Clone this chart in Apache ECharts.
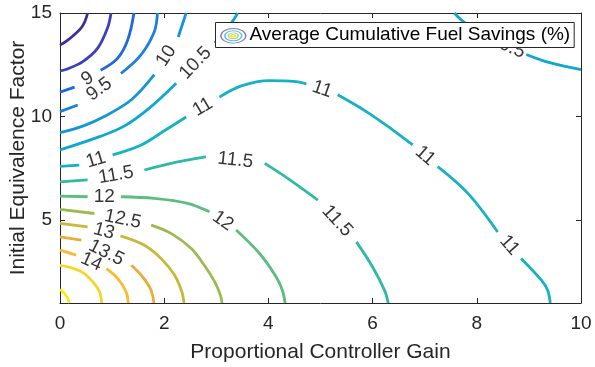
<!DOCTYPE html>
<html>
<head>
<meta charset="utf-8">
<script src="https://cdn.jsdelivr.net/npm/echarts@6/dist/echarts.min.js"></script>
<style>
  html, body { margin: 0; padding: 0; background: #fff; }
  #chart { width: 595px; height: 367px; }
</style>
</head>
<body>
<div id="chart"></div>
<script>
// Axis ticks
const xTicks = [0, 2, 4, 6, 8, 10];
const yTicks = [5, 10, 15];

// Contour paths as [gain, equivalence factor] points.
// Each path is a list of segments; the break between two segments is where the level label sits.
const c8 = [[[0.53, 15], [0.48, 14.6], [0.40, 14.26], [0.15, 13.69], [0, 13.45]]];
const c85 = [[[0.98, 15], [0.91, 14.26], [0.72, 13.29], [0.43, 12.64], [0.14, 12.3], [0, 12.2]]];
const c9 = [
  [[0, 11.18], [0.28, 11.42]],
  [[0.78, 12.24], [1.1, 12.8], [1.3, 13.7], [1.42, 15]]
];
const c95 = [
  [[0, 10.24], [0.34, 10.56]],
  [[1.17, 12.08], [1.55, 12.97], [1.81, 14.1], [1.87, 15]]
];
const c10 = [
  [[0, 9.22], [0.45, 9.55], [0.85, 10.0], [1.37, 10.81], [1.81, 12.02]],
  [[2.27, 13.84], [2.42, 15]]
];
const c105 = [
  [[0, 8.39], [0.76, 9.03], [1.24, 9.55], [1.72, 10.42], [2.23, 11.61]],
  [[2.97, 13.55], [3.29, 14.52], [3.41, 15]]
];
const c105b = [
  [[7.57, 15], [7.73, 14.61], [8.22, 13.81]],
  [[8.95, 13.0], [9.4, 12.6], [10, 12.27]]
];
const c11 = [
  [[0, 7.6], [0.37, 7.66]],
  [[1.01, 8.15], [1.56, 8.63], [2.01, 9.33], [2.42, 9.98]],
  [[3.06, 10.94], [3.48, 11.48], [4.02, 11.74], [4.53, 11.69], [4.73, 11.58]],
  [[5.33, 11.05], [5.88, 10.24], [6.39, 9.35], [6.77, 8.63]],
  [[7.25, 7.58], [7.83, 6.29], [8.4, 4.43]],
  [[8.85, 3.15], [9.24, 2.1], [9.36, 1.61], [9.41, 1.0]]
];
const c115 = [
  [[0, 6.85], [0.53, 6.94]],
  [[1.62, 7.42], [2.13, 7.74], [2.8, 8.05]],
  [[3.93, 7.74], [4.37, 7.02], [4.95, 5.97]],
  [[5.69, 3.95], [6.0, 2.74], [6.23, 1.61], [6.3, 1.0]]
];
const c12 = [
  [[0, 6.16], [0.53, 6.13]],
  [[1.17, 6.13], [1.81, 6.05], [2.45, 5.81], [2.87, 5.4]],
  [[3.38, 4.52], [3.83, 3.39], [4.15, 2.26], [4.27, 1.6], [4.32, 1.0]]
];
const c125 = [
  [[0, 5.52], [0.66, 5.32]],
  [[1.75, 4.76], [2.13, 4.36], [2.52, 3.63], [2.77, 2.82], [2.97, 2.02], [3.08, 1.37], [3.11, 1.0]]
];
const c13 = [
  [[0, 4.84], [0.53, 4.68]],
  [[1.16, 4.24], [1.62, 3.79], [1.94, 3.15], [2.2, 2.34], [2.34, 1.53], [2.38, 1.0]]
];
const c135 = [
  [[0, 4.19], [0.41, 4.03]],
  [[1.37, 2.82], [1.56, 2.34], [1.72, 1.77], [1.78, 1.35], [1.8, 1.0]]
];
const c14 = [
  [[0, 3.55], [0.31, 3.31]],
  [[0.89, 2.66], [1.11, 2.18], [1.27, 1.53], [1.31, 1.0]]
];
const c145 = [[[0, 2.82], [0.21, 2.71], [0.44, 2.47], [0.63, 2.02], [0.76, 1.53], [0.8, 1.0]]];
const c15 = [[[0, 1.66], [0.09, 1.45], [0.15, 1.21], [0.18, 1.0]]];

const contourLevels = [8, 8.5, 9, 9.5, 10, 10.5, 10.5, 11, 11.5, 12, 12.5, 13, 13.5, 14, 14.5, 15];
const contourPaths = [c8, c85, c9, c95, c10, c105, c105b, c11, c115, c12, c125, c13, c135, c14, c145, c15];

// Parula-like colours for levels 8, 8.5, ..., 15
const levelColors = ['#3b2f95', '#3b40bd', '#1f68e0', '#1a80dc', '#1496d6', '#0ea7cf', '#16b1c2',
  '#30b9a3', '#5cbd7e', '#9bbb52', '#c6b93c', '#e9ad3a', '#f7bb30', '#f5d72a', '#f5ef18'];

const legendName = 'Average Cumulative Fuel Savings (%)';
const FONT = "'Liberation Sans', Arial, Helvetica, sans-serif";
const AXIS_COLOR = '#262626';

function colorFor(level) {
  return levelColors[Math.round((level - 8) * 2)];
}

const chart = echarts.init(document.getElementById('chart'), null, { renderer: 'canvas' });

// One line series per segment
const lineSeries = [];
contourPaths.forEach((path, i) => {
  const col = colorFor(contourLevels[i]);
  path.forEach(seg => {
    lineSeries.push({
      type: 'line',
      name: legendName,
      data: seg,
      smooth: 0.35,
      symbol: 'none',
      silent: true,
      clip: true,
      lineStyle: { color: col, width: 2.8, cap: 'butt' },
      itemStyle: { color: col },
      z: 2
    });
  });
});

const axisLineStyle = { show: true, onZero: false, lineStyle: { color: AXIS_COLOR, width: 1 } };
const tickStyle = { show: true, inside: true, length: 5, lineStyle: { color: AXIS_COLOR, width: 1 } };

// Small nested-ellipse symbol used as the legend marker
function ring(r, color, width) {
  return {
    type: 'circle', x: 233.3, y: 35.8, scaleX: 1.7,
    shape: { cx: 0, cy: 0, r: r },
    style: { fill: 'none', stroke: color, lineWidth: width, strokeNoScale: true },
    z: 20
  };
}

const option = {
  animation: false,
  backgroundColor: '#fff',
  grid: { left: 60, top: 13, width: 521, height: 290, containLabel: false, outerBoundsMode: 'none' },
  xAxis: [
    {
      type: 'value', min: 0, max: 10, interval: 2, position: 'bottom',
      name: 'Proportional Controller Gain', nameLocation: 'middle', nameGap: 39,
      nameMoveOverlap: false,
      nameTextStyle: { fontSize: 21, color: AXIS_COLOR, fontFamily: FONT },
      axisLine: axisLineStyle, axisTick: tickStyle,
      axisLabel: { fontSize: 19, color: AXIS_COLOR, fontFamily: FONT, margin: 11,
        customValues: xTicks },
      splitLine: { show: false }
    },
    {
      type: 'value', min: 0, max: 10, interval: 2, position: 'top',
      axisLine: axisLineStyle, axisTick: tickStyle,
      axisLabel: { show: false }, splitLine: { show: false }
    }
  ],
  yAxis: [
    {
      type: 'value', min: 1, max: 15, position: 'left',
      name: 'Initial Equivalence Factor', nameLocation: 'middle', nameGap: 31,
      nameMoveOverlap: false,
      nameTextStyle: { fontSize: 21, color: AXIS_COLOR, fontFamily: FONT },
      axisLine: axisLineStyle,
      axisTick: Object.assign({}, tickStyle, { customValues: yTicks }),
      axisLabel: { fontSize: 19, color: AXIS_COLOR, fontFamily: FONT, margin: 8,
        customValues: yTicks },
      splitLine: { show: false }
    },
    {
      type: 'value', min: 1, max: 15, position: 'right',
      axisLine: axisLineStyle,
      axisTick: Object.assign({}, tickStyle, { customValues: yTicks }),
      axisLabel: { show: false }, splitLine: { show: false }
    }
  ],
  legend: {
    data: [legendName],
    left: 215.5, top: 22.5,
    padding: [3, 4, 3, 4],
    itemWidth: 25, itemHeight: 15,
    icon: 'rect',
    itemStyle: { color: 'rgba(0,0,0,0)', borderWidth: 0 },
    textStyle: { fontSize: 19, color: '#000', fontFamily: FONT },
    backgroundColor: '#fff',
    borderColor: AXIS_COLOR, borderWidth: 1, borderRadius: 0,
    selectedMode: false,
    z: 10
  },
  graphic: [
    ring(7.3, '#7b7cc6', 0.9),
    ring(5.0, '#5bbbe0', 0.9),
    ring(2.9, '#a8d47a', 0.9),
    ring(1.3, '#ece43a', 1.1)
  ],
  series: lineSeries
};

chart.setOption(option);

// Level labels sit in the breaks of each contour, turned along the break
const labelData = [];
contourPaths.forEach((path, i) => {
  for (let j = 0; j < path.length - 1; j++) {
    const a = path[j][path[j].length - 1];
    const b = path[j + 1][0];
    const pa = chart.convertToPixel({ gridIndex: 0 }, a);
    const pb = chart.convertToPixel({ gridIndex: 0 }, b);
    let ang = Math.atan2(pa[1] - pb[1], pb[0] - pa[0]) * 180 / Math.PI;
    if (ang > 90) ang -= 180;
    if (ang < -90) ang += 180;
    labelData.push({
      value: [(a[0] + b[0]) / 2, (a[1] + b[1]) / 2],
      levelText: String(contourLevels[i]),
      label: { rotate: ang }
    });
  }
});

const labelSeries = {
  type: 'scatter',
  name: 'levels',
  data: labelData,
  symbolSize: 1,
  silent: true,
  itemStyle: { color: 'rgba(0,0,0,0)' },
  label: {
    show: true,
    position: 'inside',
    formatter: p => p.data.levelText,
    fontSize: 19,
    color: '#000',
    fontFamily: FONT,
    align: 'center',
    verticalAlign: 'middle'
  },
  labelLayout: { hideOverlap: false },
  z: 3
};

chart.setOption({ series: lineSeries.concat([labelSeries]) });
</script>
</body>
</html>
